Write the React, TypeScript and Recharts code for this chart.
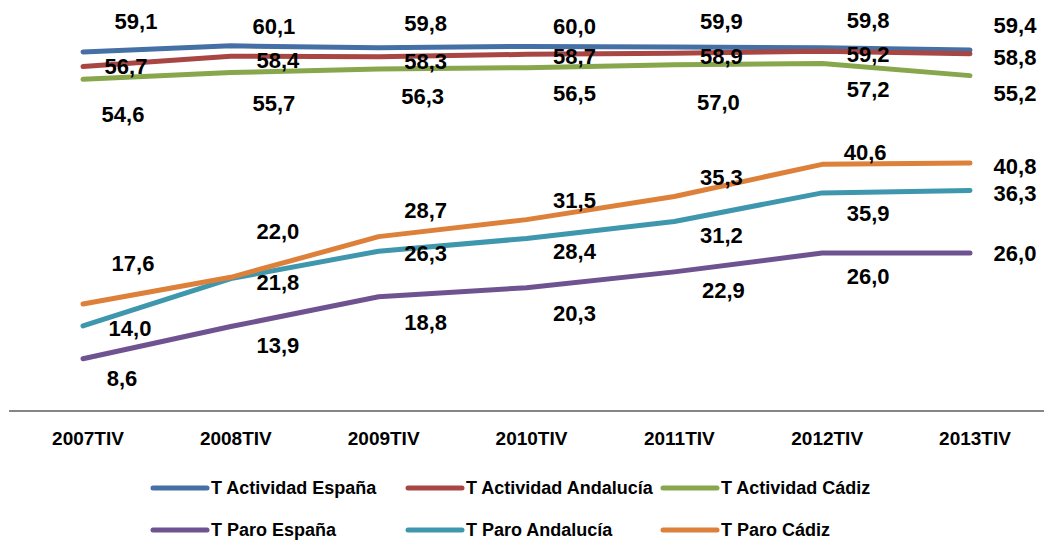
import { LineChart, Line, XAxis, YAxis, Legend, LabelList } from "recharts"

const categories = ["2007TIV", "2008TIV", "2009TIV", "2010TIV", "2011TIV", "2012TIV", "2013TIV"]

const actividadEspana = [59.1, 60.1, 59.8, 60.0, 59.9, 59.8, 59.4]
const actividadAndalucia = [56.7, 58.4, 58.3, 58.7, 58.9, 59.2, 58.8]
const actividadCadiz = [54.6, 55.7, 56.3, 56.5, 57.0, 57.2, 55.2]
const paroEspana = [8.6, 13.9, 18.8, 20.3, 22.9, 26.0, 26.0]
const paroAndalucia = [14.0, 21.8, 26.3, 28.4, 31.2, 35.9, 36.3]
const paroCadiz = [17.6, 22.0, 28.7, 31.5, 35.3, 40.6, 40.8]

const seriesNames = [
  "T Actividad España",
  "T Actividad Andalucía",
  "T Actividad Cádiz",
  "T Paro España",
  "T Paro Andalucía",
  "T Paro Cádiz",
]
const seriesValues = [actividadEspana, actividadAndalucia, actividadCadiz, paroEspana, paroAndalucia, paroCadiz]
const seriesColors = ["#4470a6", "#a84644", "#88a64c", "#6f5391", "#3f97ae", "#dd803a"]

// label placement relative to each point (label centre), like the hand-placed labels of the original
const labelDx = [
  [53, 43, 47, 48, 47, 46, 45],
  [43, 47, 47, 48, 47, 46, 45],
  [40, 43, 44, 48, 44, 46, 45],
  [39, 47, 47, 48, 49, 46, 45],
  [47, 47, 47, 48, 47, 46, 45],
  [50, 47, 47, 48, 47, 43, 45],
]
const labelDy = [
  [-31, -20, -25, -20, -26, -28, -25],
  [-1, 4, 4, 2, 3, 3, 3],
  [35, 30, 27, 25, 37, 26, 17],
  [19, 18, 25, 25, 18, 23, 0],
  [2, 3, 2, 13, 14, 20, 3],
  [-41, -46, -27, -20, -20, -12, 3],
]

const data = categories.map((cat, i) => {
  const row: Record<string, string | number> = { cat }
  seriesValues.forEach((vals, s) => {
    row["s" + s] = vals[i]
  })
  return row
})

const FONT = "'Liberation Sans', Arial, sans-serif"

const fmt = (v: number) => v.toFixed(1).replace(".", ",")

const makeLabel = (s: number) => (props: any) => {
  const { x, y, value, index } = props
  return (
    <text
      x={x + labelDx[s][index]}
      y={y + labelDy[s][index] + 8}
      textAnchor="middle"
      fontFamily={FONT}
      fontWeight="bold"
      fontSize={22}
      fill="#000"
    >
      {fmt(Number(value))}
    </text>
  )
}

const renderTick = (props: any) => {
  const { x, y, payload } = props
  return (
    <text x={x + 5} y={y} dy={34} textAnchor="middle" fontFamily={FONT} fontWeight="bold" fontSize={19} fill="#000">
      {payload.value}
    </text>
  )
}

const renderLegend = () => (
  <div style={{ position: "relative", width: 1047, height: 84, fontFamily: FONT }}>
    {seriesNames.map((name, i) => (
      <div
        key={name}
        style={{
          position: "absolute",
          left: 150 + (i % 3) * 255,
          top: Math.floor(i / 3) * 42,
          height: 42,
          display: "flex",
          alignItems: "center",
          whiteSpace: "nowrap",
        }}
      >
        <svg width={60} height={10}>
          <line x1={3} y1={5} x2={57} y2={5} stroke={seriesColors[i]} strokeWidth={5} strokeLinecap="round" />
        </svg>
        <span style={{ fontSize: 18, fontWeight: "bold", color: "#000", marginLeft: 1 }}>{name}</span>
      </div>
    ))}
  </div>
)

export default function App() {
  return (
    <div style={{ position: "absolute", left: 0, top: 0, width: 1047, height: 540, background: "#fff" }}>
      <LineChart width={1047} height={540} data={data} margin={{ top: 10, right: 3, left: 9, bottom: 99 }}>
        <XAxis
          dataKey="cat"
          tickLine={false}
          tickSize={0}
          tickMargin={0}
          padding={{ left: 74, right: 74 }}
          axisLine={{ stroke: "#868686", strokeWidth: 2 }}
          tick={renderTick}
          interval={0}
        />
        <YAxis hide domain={[0, 66]} />
        {seriesNames.map((name, s) => (
          <Line
            key={name}
            dataKey={"s" + s}
            name={name}
            type="linear"
            stroke={seriesColors[s]}
            strokeWidth={5}
            strokeLinecap="round"
            strokeLinejoin="round"
            dot={false}
            activeDot={false}
            isAnimationActive={false}
          />
        ))}
        {seriesNames.map((name, s) => (
          <Line
            key={name + "-labels"}
            dataKey={"s" + s}
            stroke="none"
            dot={false}
            activeDot={false}
            legendType="none"
            isAnimationActive={false}
          >
            <LabelList dataKey={"s" + s} content={makeLabel(s)} />
          </Line>
        ))}
        <Legend
          layout="horizontal"
          verticalAlign="middle"
          align="center"
          content={renderLegend}
          wrapperStyle={{ position: "absolute", left: 0, top: 467, width: 1047, height: 84 }}
        />
      </LineChart>
    </div>
  )
}
